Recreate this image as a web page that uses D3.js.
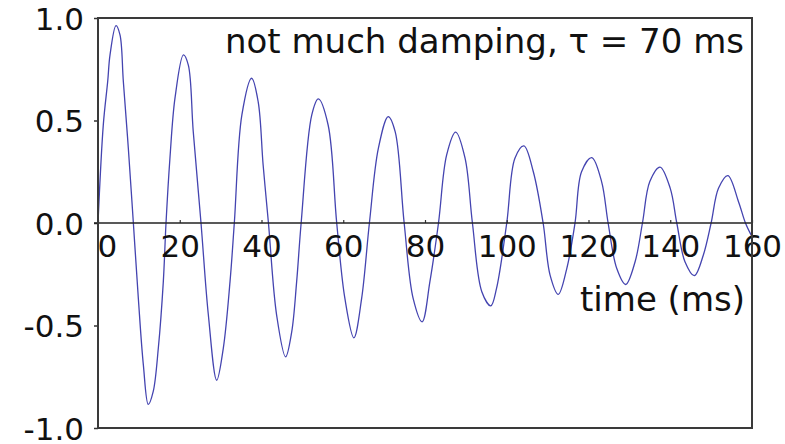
<!DOCTYPE html>
<html>
<head>
<meta charset="utf-8">
<script src="https://cdn.jsdelivr.net/npm/d3@7"></script>
<style>
  html, body { margin: 0; padding: 0; background: #fff; }
  svg { display: block; }
  text { font-family: "DejaVu Sans", Verdana, sans-serif; fill: #111; }
</style>
</head>
<body>
<svg id="chart" width="785" height="444"></svg>
<script>
// Damped oscillation, sampled along the trace (time in ms, amplitude)
const timeMs = [
  0, 1.3, 2.37, 2.94, 4.4, 5.38, 6.2, 7.42, 8.65, 9.87, 11.1, 12.3, 13.5, 14.76, 15.98,
  16.64, 17.6, 18.84, 20.9, 22.1, 23.3, 25.2, 27.0, 29.04, 30.66, 32.3,
  33.35, 35.2, 37.6, 39.2, 40.4, 41.7, 43.7, 45.9, 47.4, 48.6,
  49.7, 52.3, 53.9, 56.3, 58.4, 60.4, 62.6, 64.5,
  66.4, 68.6, 71.0, 72.7, 74.9, 77.1, 79.3, 81.2,
  83.3, 85.3, 87.5, 89.8, 91.6, 93.9, 96.1, 97.5,
  100.0, 102.0, 104.2, 106.5, 108.9, 110.6, 112.6, 114.7,
  116.7, 118.3, 120.8, 123.2, 124.8, 126.9, 129.1, 131.4,
  133.2, 135.0, 137.5, 140.0, 141.6, 143.6, 145.9, 148.1,
  150.0, 151.8, 154.1, 156.7, 158.4, 159.8
];
const amplitude = [
  0, 0.48, 0.69, 0.82, 0.963, 0.918, 0.69, 0.365, 0, -0.368, -0.693, -0.885, -0.823, -0.61, -0.286,
  0, 0.316, 0.61, 0.82, 0.77, 0.446, 0, -0.449, -0.767, -0.61, -0.286,
  0, 0.527, 0.706, 0.59, 0.283, 0, -0.449, -0.653, -0.53, -0.286,
  0, 0.527, 0.605, 0.478, 0, -0.368, -0.56, -0.368,
  0, 0.365, 0.519, 0.446, 0, -0.368, -0.482, -0.286,
  0, 0.332, 0.443, 0.316, 0, -0.335, -0.404, -0.319,
  0, 0.316, 0.376, 0.25, 0, -0.254, -0.348, -0.221,
  0, 0.25, 0.319, 0.202, 0, -0.221, -0.300, -0.189,
  0, 0.202, 0.273, 0.169, 0, -0.189, -0.257, -0.156,
  0, 0.169, 0.231, 0.104, 0, -0.059
];

const xTicks = [0, 20, 40, 60, 80, 100, 120, 140, 160];
const yTicks = [-1, -0.5, 0, 0.5, 1];
const yTickLabels = ["-1.0", "-0.5", "0.0", "0.5", "1.0"];
const titleText = "not much damping, \u03C4 = 70 ms";
const xAxisLabel = "time (ms)";

const svg = d3.select("#chart");
const W = 785, H = 444;
const margin = { left: 98, right: W - 752, top: 18, bottom: H - 428 };

const x = d3.scaleLinear().domain([0, 160]).range([margin.left, W - margin.right]);
const y = d3.scaleLinear().domain([-1, 1]).range([H - margin.bottom, margin.top]);

svg.append("rect").attr("width", W).attr("height", H).attr("fill", "#fff");

// y axis: ticks and labels on the left spine
const yAxis = svg.append("g")
  .attr("transform", `translate(${margin.left},0)`)
  .call(d3.axisLeft(y).tickValues(yTicks).tickSize(4).tickPadding(10)
    .tickFormat((d, i) => yTickLabels[i]));
yAxis.select(".domain").remove();
yAxis.selectAll(".tick line").attr("stroke", "#333").attr("stroke-width", 1.5);
yAxis.selectAll(".tick text")
  .attr("font-size", 31).attr("dy", "0.37em")
  .style("font-family", "'DejaVu Sans', Verdana, sans-serif").attr("fill", "#111");

// the trace
const pts = timeMs.map((t, i) => [t, amplitude[i]]);
const line = d3.line()
  .x(d => x(d[0]))
  .y(d => y(d[1]))
  .curve(d3.curveCatmullRom.alpha(0.5));
svg.append("path")
  .datum(pts)
  .attr("d", line)
  .attr("fill", "none")
  .attr("stroke", "#4444b0")
  .attr("stroke-width", 1.3)
  .attr("stroke-linejoin", "round");

// x axis through zero
const xAxis = svg.append("g")
  .attr("transform", `translate(0,${y(0)})`)
  .call(d3.axisBottom(x).tickValues(xTicks).tickSizeInner(-3).tickSizeOuter(0).tickPadding(12)
    .tickFormat(d3.format("d")));
xAxis.select(".domain").remove();
xAxis.selectAll(".tick line").attr("stroke", "#333").attr("stroke-width", 1.2);
xAxis.selectAll(".tick text")
  .attr("font-size", 31)
  .style("font-family", "'DejaVu Sans', Verdana, sans-serif").attr("fill", "#111")
  .filter(d => d === 0)
  .attr("text-anchor", "start").attr("dx", -1);

svg.append("line")
  .attr("x1", margin.left - 4).attr("x2", W - margin.right)
  .attr("y1", y(0)).attr("y2", y(0))
  .attr("stroke", "#222").attr("stroke-width", 1.5);

// frame
svg.append("rect")
  .attr("x", margin.left).attr("y", margin.top)
  .attr("width", W - margin.right - margin.left)
  .attr("height", H - margin.bottom - margin.top)
  .attr("fill", "none").attr("stroke", "#3a3a3a").attr("stroke-width", 2);

svg.append("text")
  .attr("x", 744).attr("y", 53)
  .attr("text-anchor", "end").attr("font-size", 34)
  .text(titleText);

svg.append("text")
  .attr("x", 745).attr("y", 311)
  .attr("text-anchor", "end").attr("font-size", 34)
  .text(xAxisLabel);
</script>
</body>
</html>
